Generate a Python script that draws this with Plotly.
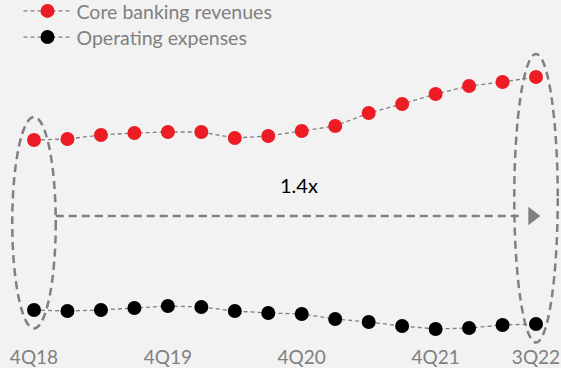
import plotly.graph_objects as go

# Quarterly series (index units)
quarters = ["4Q18", "1Q19", "2Q19", "3Q19", "4Q19", "1Q20", "2Q20", "3Q20",
            "4Q20", "1Q21", "2Q21", "3Q21", "4Q21", "1Q22", "2Q22", "3Q22"]
core_revenues = [210, 211, 215, 217, 218, 218, 212, 214,
                 219, 224, 237, 246, 256, 264, 268, 273]
operating_expenses = [40, 39, 40, 42, 44, 43, 39, 37,
                      36, 31, 28, 24, 21, 22, 25, 26]
tick_labels = ["4Q18", "4Q19", "4Q20", "4Q21", "3Q22"]
growth_label = "1.4x"

x_idx = list(range(len(quarters)))
tick_pos = [quarters.index(t) for t in tick_labels]

GRAY = "#808080"
RED = "#ed1c24"
BG = "#f2f2f2"
FONT = "Lato"

fig = go.Figure()

line_style = dict(color=GRAY, width=1.3, dash="4px,3px")
fig.add_trace(go.Scatter(
    x=x_idx, y=core_revenues, mode="lines+markers", name="Core banking revenues",
    line=line_style, marker=dict(color=RED, size=14, line=dict(width=0)),
    legend="legend",
))
fig.add_trace(go.Scatter(
    x=x_idx, y=operating_expenses, mode="lines+markers", name="Operating expenses",
    line=line_style, marker=dict(color="black", size=14, line=dict(width=0)),
    legend="legend2",
))

# Dashed ellipses around the first and last quarter
half_w = 0.65
pad_top, pad_bot = 23, 18.5
ell_style = dict(color=GRAY, width=2.5, dash="8px,5px")
for i in (0, len(quarters) - 1):
    fig.add_shape(type="circle", xref="x", yref="y",
                  x0=i - half_w, x1=i + half_w,
                  y0=operating_expenses[i] - pad_bot, y1=core_revenues[i] + pad_top,
                  line=ell_style, layer="below")

# Growth arrow between the two ellipses
arrow_y = 134
x_start = 0 + half_w
x_tip = len(quarters) - 1 + 0.21
x_head = x_tip - 0.32
fig.add_shape(type="line", xref="x", yref="y", x0=x_start, x1=x_head - 0.25,
              y0=arrow_y, y1=arrow_y, line=ell_style)
fig.add_trace(go.Scatter(
    x=[x_head], y=[arrow_y], mode="markers", showlegend=False, hoverinfo="skip",
    marker=dict(symbol="triangle-right", size=16, color=GRAY, line=dict(width=0)),
))
fig.add_annotation(x=(x_start + x_tip) / 2, y=arrow_y + 31, xref="x", yref="y",
                   text=growth_label, showarrow=False,
                   font=dict(family=FONT, size=20, color="black"))

legend_common = dict(x=0.033, xanchor="left", yanchor="top",
                     bgcolor="rgba(0,0,0,0)", font=dict(size=19.5, color=GRAY),
                     itemwidth=48)

fig.update_layout(
    width=561, height=368,
    margin=dict(l=0, r=0, t=0, b=24, autoexpand=False),
    paper_bgcolor=BG, plot_bgcolor=BG,
    font=dict(family=FONT, color=GRAY),
    showlegend=True,
    legend=dict(y=1.024, **legend_common),
    legend2=dict(y=0.948, **legend_common),
    xaxis=dict(range=[-34 / 33.47, 15 + 25 / 33.47], tickvals=tick_pos,
               ticktext=tick_labels, showgrid=False, zeroline=False,
               showline=False, ticks="", automargin=False,
               tickfont=dict(size=19, color=GRAY)),
    yaxis=dict(range=[6, 350], visible=False, showgrid=False, zeroline=False),
)

fig.write_html("out.html")
